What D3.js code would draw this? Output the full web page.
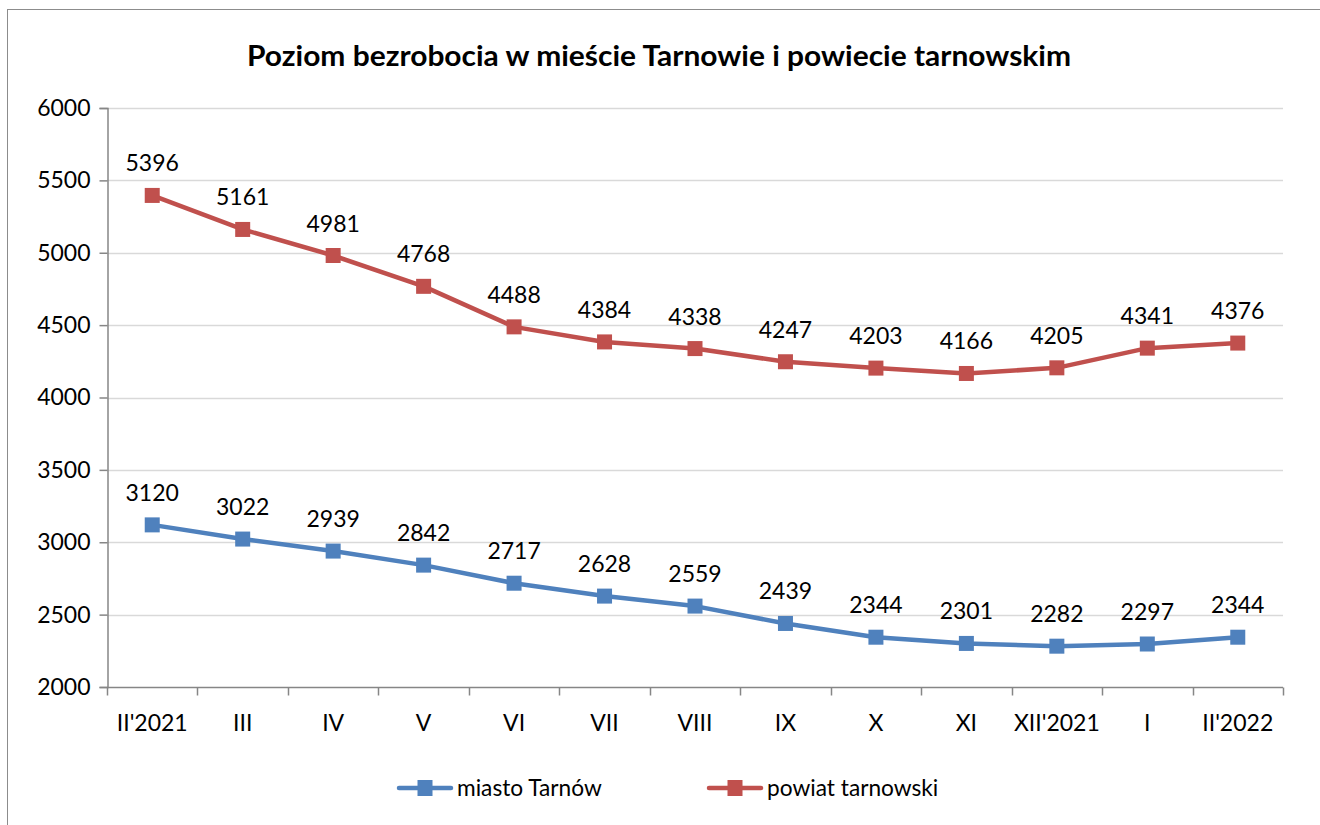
<!DOCTYPE html>
<html>
<head>
<meta charset="utf-8">
<script src="https://cdn.jsdelivr.net/npm/d3@7"></script>
<style>
  body { margin: 0; background: #fff; }
  svg { font-family: Lato, "Open Sans", sans-serif; }
</style>
</head>
<body>
<svg width="1320" height="825"></svg>
<script>
// categories along the x axis
const months = ["II'2021", "III", "IV", "V", "VI", "VII", "VIII", "IX", "X", "XI", "XII'2021", "I", "II'2022"];
// unemployment values
const miasto = [3120, 3022, 2939, 2842, 2717, 2628, 2559, 2439, 2344, 2301, 2282, 2297, 2344];
const powiat = [5396, 5161, 4981, 4768, 4488, 4384, 4338, 4247, 4203, 4166, 4205, 4341, 4376];
const yTicks = [2000, 2500, 3000, 3500, 4000, 4500, 5000, 5500, 6000];

const series = [
  { name: 'miasto Tarnów', values: miasto, color: '#4f81bd' },
  { name: 'powiat tarnowski', values: powiat, color: '#c0504d' }
];

const svg = d3.select('svg');

// outer chart border
svg.append('rect')
  .attr('x', 7.5).attr('y', 9.5)
  .attr('width', 1330).attr('height', 830)
  .attr('fill', 'none').attr('stroke', '#8c8c8c');

svg.append('text')
  .attr('x', 659).attr('y', 66)
  .attr('text-anchor', 'middle')
  .attr('font-weight', 'bold')
  .attr('font-size', 28)
  .attr('textLength', 824)
  .attr('lengthAdjust', 'spacingAndGlyphs')
  .text('Poziom bezrobocia w mieście Tarnowie i powiecie tarnowskim');

const xScale = d3.scaleBand()
  .domain(months)
  .range([107, 1283]);

const yScale = d3.scaleLinear()
  .domain([2000, 6000])
  .range([687, 108]);

// horizontal gridlines
svg.selectAll('.grid')
  .data(yTicks.filter(t => t > 2000))
  .enter()
  .append('line')
  .attr('x1', 107).attr('x2', 1283)
  .attr('y1', d => Math.round(yScale(d)) + 0.5)
  .attr('y2', d => Math.round(yScale(d)) + 0.5)
  .attr('stroke', '#d9d9d9')
  .attr('stroke-width', 1.5);

// y axis
const yAxis = svg.append('g')
  .attr('transform', 'translate(107.5,0)')
  .call(d3.axisLeft(yScale).tickValues(yTicks).tickSize(8).tickPadding(9).tickFormat(d3.format('d')));
yAxis.select('.domain').attr('stroke', '#868686').attr('stroke-width', 1.5);
yAxis.selectAll('.tick line').attr('stroke', '#868686').attr('stroke-width', 1.5);
yAxis.selectAll('.tick text').attr('font-size', 23).attr('fill', '#000')
  .attr('font-family', 'Lato, sans-serif');

// x axis with ticks at band edges
const xg = svg.append('g').attr('transform', 'translate(0,687.5)');
xg.append('line')
  .attr('x1', 107).attr('x2', 1283)
  .attr('stroke', '#868686').attr('stroke-width', 1.5);
const edges = months.map(m => xScale(m)).concat([xScale.range()[1]]);
xg.selectAll('.xt')
  .data(edges)
  .enter()
  .append('line')
  .attr('x1', d => Math.round(d) + 0.5).attr('x2', d => Math.round(d) + 0.5)
  .attr('y1', 0).attr('y2', 8)
  .attr('stroke', '#868686').attr('stroke-width', 1.5);
xg.selectAll('.xl')
  .data(months)
  .enter()
  .append('text')
  .attr('x', d => xScale(d) + xScale.bandwidth() / 2)
  .attr('y', 43)
  .attr('text-anchor', 'middle')
  .attr('font-size', 23)
  .text(d => d);

const line = d3.line()
  .x((d, i) => xScale(months[i]) + xScale.bandwidth() / 2)
  .y(d => yScale(d));

series.forEach(s => {
  const g = svg.append('g');
  g.append('path')
    .datum(s.values)
    .attr('d', line)
    .attr('fill', 'none')
    .attr('stroke', s.color)
    .attr('stroke-width', 4.5)
    .attr('stroke-linejoin', 'round');
  g.selectAll('rect')
    .data(s.values)
    .enter()
    .append('rect')
    .attr('x', (d, i) => xScale(months[i]) + xScale.bandwidth() / 2 - 7.5)
    .attr('y', d => yScale(d) - 7.5)
    .attr('width', 15).attr('height', 15)
    .attr('fill', s.color);
  g.selectAll('text')
    .data(s.values)
    .enter()
    .append('text')
    .attr('x', (d, i) => xScale(months[i]) + xScale.bandwidth() / 2)
    .attr('y', d => yScale(d) - 24)
    .attr('text-anchor', 'middle')
    .attr('font-size', 23)
    .text(d => d);
});

// legend
const legendX = [397, 707];
series.forEach((s, i) => {
  const lg = svg.append('g').attr('transform', `translate(${legendX[i]},788)`);
  lg.append('line')
    .attr('x1', 2).attr('x2', 54)
    .attr('stroke', s.color).attr('stroke-width', 4.5).attr('stroke-linecap', 'round');
  lg.append('rect')
    .attr('x', 20.5).attr('y', -8).attr('width', 15).attr('height', 16)
    .attr('fill', s.color);
  lg.append('text')
    .attr('x', 60).attr('y', 8)
    .attr('font-size', 22.7)
    .text(s.name);
});
</script>
</body>
</html>
